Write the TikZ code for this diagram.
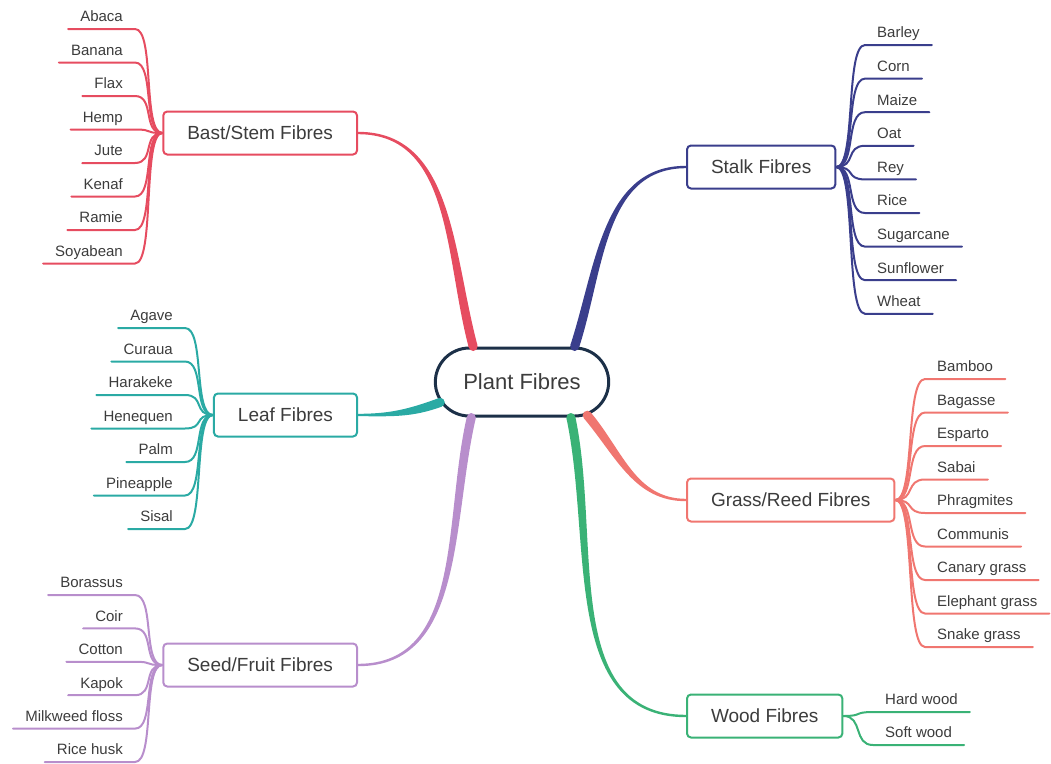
\documentclass[tikz,border=0pt]{standalone}
\usepackage{fontspec}
\setmainfont{Liberation Sans}
\usetikzlibrary{calc,shapes.misc}
\definecolor{hubblue}{RGB}{28,48,72}
\definecolor{bastred}{RGB}{230,76,96}
\definecolor{stalkblue}{RGB}{58,62,140}
\definecolor{leafteal}{RGB}{42,170,164}
\definecolor{grasspink}{RGB}{240,118,112}
\definecolor{seedlilac}{RGB}{184,142,204}
\definecolor{woodgreen}{RGB}{58,178,118}
\definecolor{txtgray}{RGB}{60,60,60}
\tikzset{
    hub/.style   = {rounded rectangle, draw=hubblue, line width=3pt, fill=white,
            minimum width=180pt, minimum height=68pt,
            font=\fontsize{22pt}{26pt}\selectfont, text=txtgray},
    cat/.style   = {draw=#1, line width=2pt, fill=white, rounded corners=4pt,
            inner xsep=24pt, minimum height=43pt,
            font=\fontsize{19pt}{22pt}\selectfont, text=txtgray},
    itemL/.style = {anchor=south east, inner xsep=12pt, inner ysep=7pt, text depth=0pt,
            font=\fontsize{15pt}{18pt}\selectfont, text=txtgray},
    itemR/.style = {itemL, anchor=south west},
    twig/.style  = {draw=#1, line width=2pt, line cap=round},
}
% thick branch, thin at the category end
\newcommand\trunk[5]{%
    \fill[#1] ($(#2)+({#3+90}:4.5pt)$) to[out=#3,in=#5] ($(#4)+({#5-90}:1.2pt)$)
        -- ($(#4)+({#5+90}:1.2pt)$) to[out=#5,in=#3] ($(#2)+({#3-90}:4.5pt)$) -- cycle;
    \fill[#1] (#2) circle (4.5pt);}

\begin{document}
\begin{tikzpicture}[x=1pt, y=1pt]
    \useasboundingbox (0,0) rectangle (1051,-763);

    % Nodes
    \node[hub] (plant) at (522,-382) {Plant Fibres};
    \node[cat=bastred,   anchor=east] (bast)  at (358,-133) {Bast/Stem Fibres};
    \node[cat=stalkblue, anchor=west] (stalk) at (686,-167) {Stalk Fibres};
    \node[cat=leafteal,  anchor=east] (leaf)  at (358,-415) {Leaf Fibres};
    \node[cat=grasspink, anchor=west] (grass) at (686,-500) {Grass/Reed Fibres};
    \node[cat=seedlilac, anchor=east] (seed)  at (358,-665) {Seed/Fruit Fibres};
    \node[cat=woodgreen, anchor=west] (wood)  at (686,-716) {Wood Fibres};

    % Branches
    \trunk{bastred}{plant.144}{105}{bast.east}{0}
    \trunk{stalkblue}{plant.34}{72}{stalk.west}{180}
    \trunk{leafteal}{plant.194}{200}{leaf.east}{0}
    \trunk{seedlilac}{plant.215}{257}{seed.east}{0}
    \trunk{grasspink}{plant.-27}{-50}{grass.west}{180}
    \trunk{woodgreen}{plant.-36}{-78}{wood.west}{180}

    % Fibre types
    \foreach \fibre [count=\i] in {Abaca,Banana,Flax,Hemp,Jute,Kenaf,Ramie,Soyabean} {
        \node[itemL] (bast\i) at (135,{-29-33.5*(\i-1)}) {\fibre};
        \draw[twig=bastred] (bast\i.south west) -- (bast\i.south east)
            .. controls +(20,0) and +(-20,0) .. (bast.west);
    }
    \foreach \fibre [count=\i] in {Barley,Corn,Maize,Oat,Rey,Rice,Sugarcane,Sunflower,Wheat} {
        \node[itemR] (stalk\i) at (865,{-45-33.6*(\i-1)}) {\fibre};
        \draw[twig=stalkblue] (stalk\i.south east) -- (stalk\i.south west)
            .. controls +(-20,0) and +(20,0) .. (stalk.east);
    }
    \foreach \fibre [count=\i] in {Agave,Curaua,Harakeke,Henequen,Palm,Pineapple,Sisal} {
        \node[itemL] (leaf\i) at (185,{-328-33.5*(\i-1)}) {\fibre};
        \draw[twig=leafteal] (leaf\i.south west) -- (leaf\i.south east)
            .. controls +(20,0) and +(-20,0) .. (leaf.west);
    }
    \foreach \fibre [count=\i] in {Bamboo,Bagasse,Esparto,Sabai,Phragmites,Communis,Canary grass,Elephant grass,Snake grass} {
        \node[itemR] (grass\i) at (925,{-379-33.5*(\i-1)}) {\fibre};
        \draw[twig=grasspink] (grass\i.south east) -- (grass\i.south west)
            .. controls +(-20,0) and +(20,0) .. (grass.east);
    }
    \foreach \fibre [count=\i] in {Borassus,Coir,Cotton,Kapok,Milkweed floss,Rice husk} {
        \node[itemL] (seed\i) at (135,{-595-33.4*(\i-1)}) {\fibre};
        \draw[twig=seedlilac] (seed\i.south west) -- (seed\i.south east)
            .. controls +(20,0) and +(-20,0) .. (seed.west);
    }
    \node[itemR] (wood1) at (873,-712) {Hard wood};
    \node[itemR] (wood2) at (873,-745) {Soft wood};
    \draw[twig=woodgreen] (wood1.south east) -- (wood1.south west)
        .. controls +(-20,0) and +(20,0) .. (wood.east);
    \draw[twig=woodgreen] (wood2.south east) -- (wood2.south west)
        .. controls +(-20,0) and +(20,0) .. (wood.east);
\end{tikzpicture}
\end{document}
